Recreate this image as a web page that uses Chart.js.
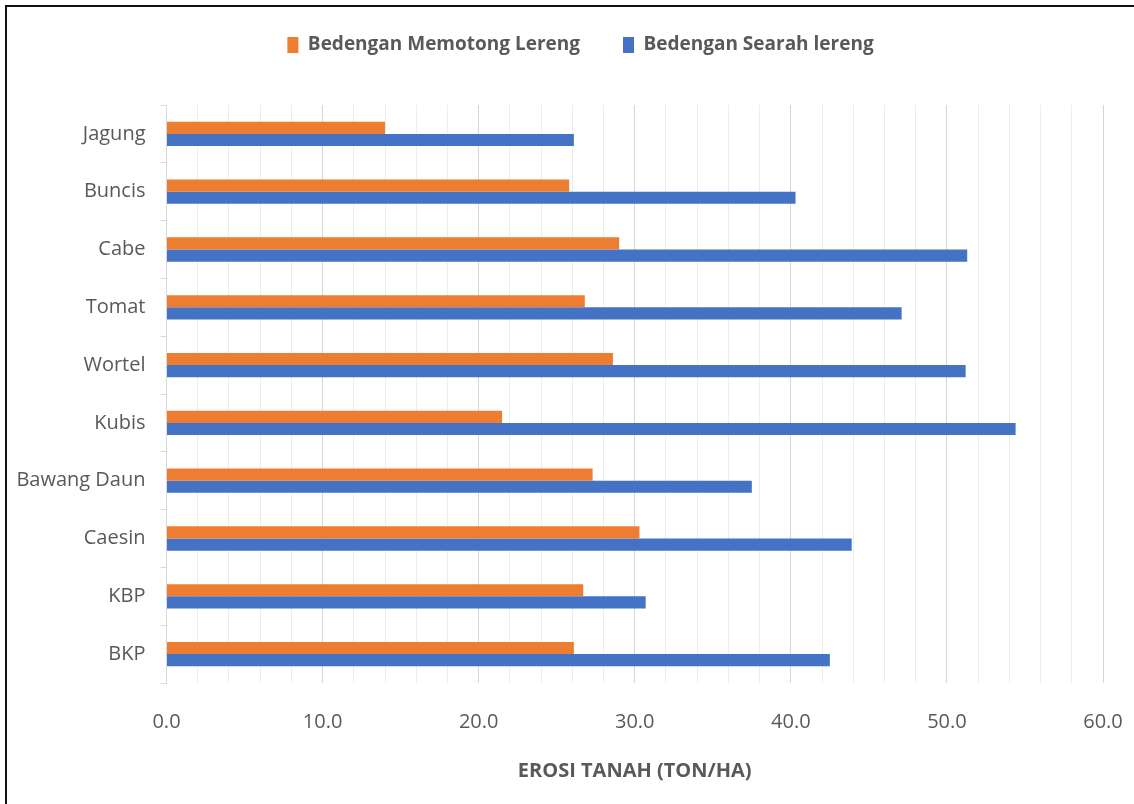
<!DOCTYPE html>
<html lang="id">
<head>
<meta charset="UTF-8">
<title>Erosi Tanah</title>
<script src="https://cdn.jsdelivr.net/npm/chart.js"></script>
<style>
  html, body { margin: 0; padding: 0; background: #fff; }
  #wrap { position: relative; width: 1134px; height: 804px; overflow: hidden; }
  #frame { position: absolute; left: 5px; top: 5px; right: -10px; bottom: -10px;
           border-top: 2px solid #111; border-left: 2px solid #111; }
  #chartCanvas { position: absolute; left: 0; top: 0; }
</style>
</head>
<body>
<div id="wrap">
  <div id="frame"></div>
  <canvas id="chartCanvas" width="1134" height="804"></canvas>
</div>

<script>
    // Erosi tanah (ton/ha) per tanaman
    const categories = ["Jagung", "Buncis", "Cabe", "Tomat", "Wortel", "Kubis", "Bawang Daun", "Caesin", "KBP", "BKP"];
    const memotongLereng = [14.0, 25.8, 29.0, 26.8, 28.6, 21.5, 27.3, 30.3, 26.7, 26.1];
    const searahLereng = [26.1, 40.3, 51.3, 47.1, 51.2, 54.4, 37.5, 43.9, 30.7, 42.5];

    // labelled ticks on the x axis, gridlines every 2
    const xLabelValues = [0, 10, 20, 30, 40, 50, 60];

    const textColor = "#595959";
    const fontFamily = "'Open Sans', sans-serif";

    // extra room under the legend, and nudge it right a little
    const legendTweak = {
        id: "legendTweak",
        beforeInit(chart) {
            const fit = chart.legend.fit;
            chart.legend.fit = function () {
                fit.call(this);
                this.height += 40.5;
            };
        },
        afterLayout(chart) {
            chart.legend.left += 25;
            chart.legend.right += 25;
        }
    };

    const ctx = document.getElementById("chartCanvas").getContext("2d");
    new Chart(ctx, {
        type: "bar",
        data: {
            labels: categories,
            datasets: [
                {
                    label: "Bedengan Memotong Lereng",
                    data: memotongLereng,
                    backgroundColor: "#ED7D31",
                    borderWidth: 0,
                    categoryPercentage: 0.42,
                    barPercentage: 1.0
                },
                {
                    label: "Bedengan Searah lereng",
                    data: searahLereng,
                    backgroundColor: "#4472C4",
                    borderWidth: 0,
                    categoryPercentage: 0.42,
                    barPercentage: 1.0
                }
            ]
        },
        options: {
            responsive: false,
            animation: false,
            indexAxis: "y",
            layout: {
                padding: { left: 8, right: 31, top: -7.5, bottom: 0 }
            },
            plugins: {
                legend: {
                    position: "top",
                    labels: {
                        boxWidth: 11,
                        boxHeight: 16,
                        padding: 43,
                        color: textColor,
                        font: { family: fontFamily, size: 19, weight: "bold" }
                    }
                },
                tooltip: { enabled: false }
            },
            scales: {
                x: {
                    min: 0,
                    max: 60,
                    ticks: {
                        stepSize: 2,
                        autoSkip: false,
                        maxRotation: 0,
                        padding: 27,
                        color: textColor,
                        font: { family: fontFamily, size: 20 },
                        callback: value => xLabelValues.includes(value) ? value.toFixed(1) : ""
                    },
                    grid: {
                        drawTicks: false,
                        color: c => (c.tick && c.tick.value % 10 === 0) ? "#d6d6d6" : "#ededed"
                    },
                    border: { display: false },
                    title: {
                        display: true,
                        text: "EROSI TANAH (TON/HA)",
                        color: textColor,
                        font: { family: fontFamily, size: 20, weight: "bold" },
                        padding: { top: 0, bottom: 21 }
                    },
                    afterFit(scale) {
                        scale.height = 121;
                        scale.paddingLeft = 0;
                        scale.paddingRight = 0;
                    }
                },
                y: {
                    ticks: {
                        padding: 15,
                        color: textColor,
                        font: { family: fontFamily, size: 20 }
                    },
                    grid: {
                        drawOnChartArea: false,
                        offset: true,
                        tickLength: 6,
                        color: "#d9d9d9"
                    },
                    border: { color: "#d9d9d9" },
                    afterFit(scale) { scale.width = 158.5; }
                }
            }
        },
        plugins: [legendTweak]
    });
</script>
</body>
</html>
